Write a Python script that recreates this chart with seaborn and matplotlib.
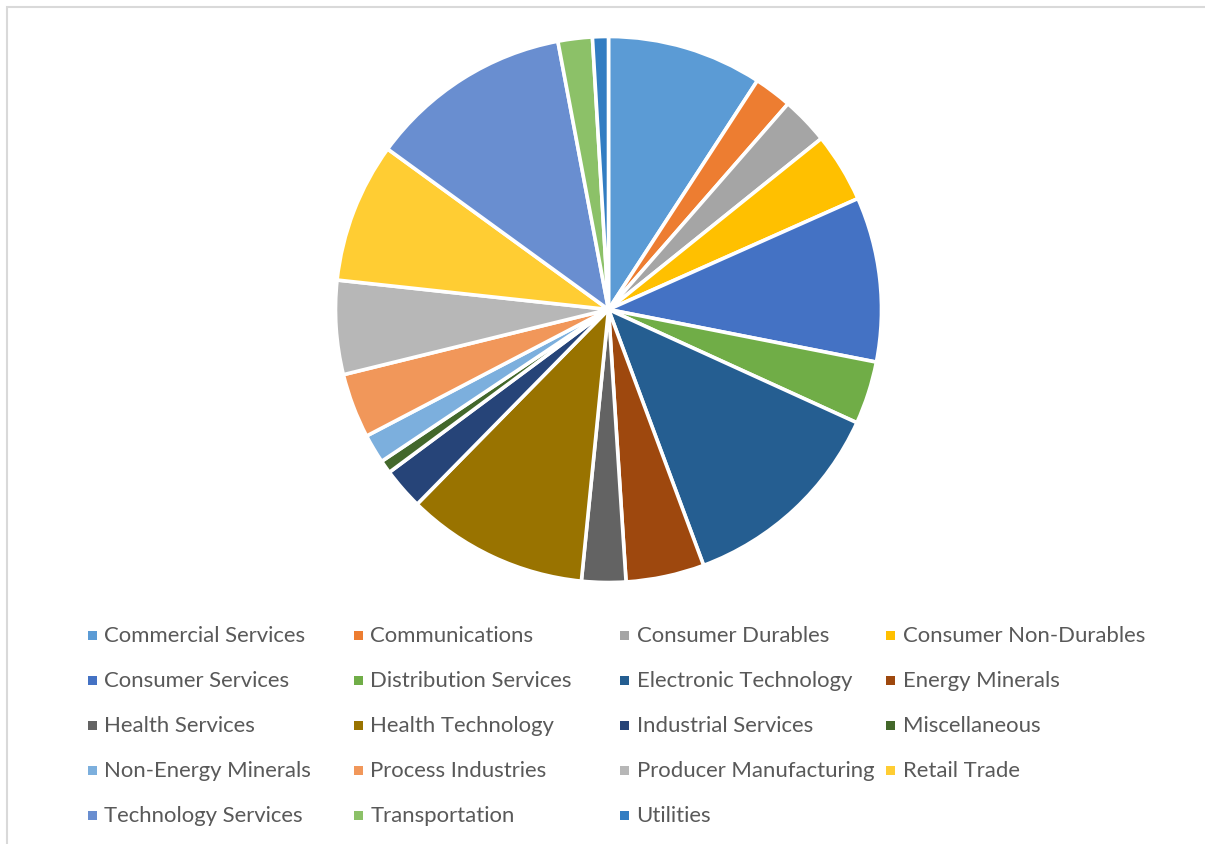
import matplotlib
matplotlib.use("Agg")
import matplotlib.pyplot as plt
from matplotlib.patches import Rectangle
import seaborn as sns

# Sector weights (percent of portfolio)
sectors = [
    "Commercial Services", "Communications", "Consumer Durables", "Consumer Non-Durables",
    "Consumer Services", "Distribution Services", "Electronic Technology", "Energy Minerals",
    "Health Services", "Health Technology", "Industrial Services", "Miscellaneous",
    "Non-Energy Minerals", "Process Industries", "Producer Manufacturing", "Retail Trade",
    "Technology Services", "Transportation", "Utilities",
]
weights = [
    9.18, 2.24, 2.81, 4.11,
    9.75, 3.72, 12.53, 4.64,
    2.61, 10.78, 2.47, 0.78,
    1.72, 3.83, 5.56, 8.28,
    12.03, 2.03, 0.94,
]
sector_colors = [
    "#5B9BD5", "#ED7D31", "#A5A5A5", "#FFC000",
    "#4472C4", "#70AD47", "#255E91", "#9E480E",
    "#636363", "#997300", "#264478", "#43682B",
    "#7CAFDD", "#F1975A", "#B7B7B7", "#FFCD33",
    "#698ED0", "#8CC168", "#327DC2",
]

sns.set_theme(style="white")
plt.rcParams["font.family"] = ["Lato", "DejaVu Sans"]
palette = sns.color_palette(sector_colors)

W, H = 1205, 844
fig = plt.figure(figsize=(W / 100, H / 100), dpi=100)
fig.patch.set_facecolor("white")

# Chart-area frame (left and top edges visible)
fig.patches.append(Rectangle((7 / W, -0.05), 1.2, 1 - 7 / H + 0.05,
                             transform=fig.transFigure, fill=False,
                             edgecolor="#D9D9D9", linewidth=1.5))

# Pie
cx, cy, r = 608.5, 309.5, 273
ax = fig.add_axes([(cx - r) / W, 1 - (cy + r) / H, 2 * r / W, 2 * r / H])
ax.pie(weights, colors=palette, startangle=90, counterclock=False, radius=1,
       wedgeprops=dict(edgecolor="white", linewidth=2.6))
ax.set_xlim(-1, 1)
ax.set_ylim(-1, 1)
ax.set_aspect("equal")
ax.axis("off")

# Legend in four equal-width columns below the pie
col_w = 266.3
for i, (name, color) in enumerate(zip(sectors, palette)):
    row, col = divmod(i, 4)
    ty = 636 + row * 45
    mx = 87.5 + col * col_w
    fig.patches.append(Rectangle((mx / W, 1 - (ty + 4) / H), 9 / W, 9 / H,
                                 transform=fig.transFigure, facecolor=color,
                                 edgecolor="none"))
    fig.text((104 + col * col_w) / W, 1 - ty / H, name, fontsize=15.9,
             color="#595959", ha="left", va="center")

fig.savefig("out.png", dpi=100)
